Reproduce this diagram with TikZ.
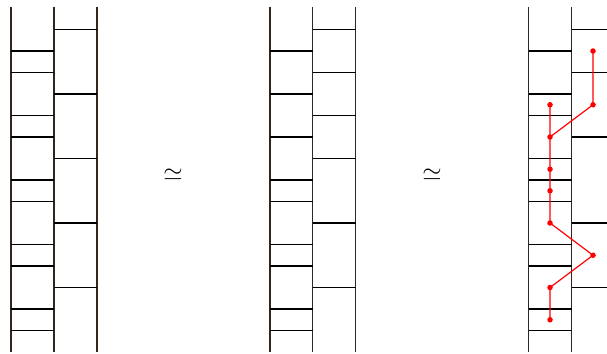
\documentclass[tikz,border=0pt]{standalone}
\begin{document}
\begin{tikzpicture}[x=1pt,y=-1pt,
  rail/.style={line width=1.8pt,draw={rgb,255:red,50;green,38;blue,30}},
  rung/.style={line width=1.8pt,draw=black},
  path/.style={line width=1.2pt,draw=red},
  dot/.style={circle,fill=red,inner sep=0pt,minimum size=5.5pt}]
\useasboundingbox (0,0) rectangle (607,353);
\def\u{21.5}
\def\top{7}
% ladder 1
\foreach \x in {11,54,97} \draw[rail] (\x,\top) -- (\x,352);
\foreach \k in {2,3,5,6,8,9,11,12,14,15} \draw[rung] (11,{8+\k*\u}) -- (54,{8+\k*\u});
\foreach \k in {1,4,7,10,13} \draw[rung] (54,{8+\k*\u}) -- (97,{8+\k*\u});
% ladder 2
\foreach \x in {270,312.5,355.5} \draw[rail] (\x,\top) -- (\x,352);
\foreach \k in {2,4,6,8,9,11,12,14,15} \draw[rung] (270,{8+\k*\u}) -- (312.5,{8+\k*\u});
\foreach \k in {1,3,5,7,10,13} \draw[rung] (312.5,{8+\k*\u}) -- (355.5,{8+\k*\u});
% ladder 3
\foreach \x in {528.5,571.5,614.5} \draw[rail] (\x,\top) -- (\x,352);
\foreach \k in {2,4,5,7,8,9,11,12,14,15} \draw[rung] (528.5,{8+\k*\u}) -- (571.5,{8+\k*\u});
\foreach \k in {1,3,6,10,13} \draw[rung] (571.5,{8+\k*\u}) -- (614.5,{8+\k*\u});
% similarity symbols
\node[font=\fontsize{23}{28}\selectfont] (s1) at (173,175) {$\simeq$};
\node[font=\fontsize{23}{28}\selectfont] (s2) at (432,175) {$\simeq$};
% red path
\node[dot] (p1) at (593,{8+2*\u}) {};
\node[dot] (p2) at (593,{8+4.5*\u}) {};
\node[dot] (p3) at (550,{8+4.5*\u}) {};
\node[dot] (p4) at (550,{8+6*\u}) {};
\node[dot] (p5) at (550,{8+7.5*\u}) {};
\node[dot] (p6) at (550,{8+8.5*\u}) {};
\node[dot] (p7) at (550,{8+10*\u}) {};
\node[dot] (p8) at (593,{8+11.5*\u}) {};
\node[dot] (p9) at (550,{8+13*\u}) {};
\node[dot] (p10) at (550,{8+14.5*\u}) {};
\draw[path] (p1.center) -- (p2.center) -- (p4.center);
\draw[path] (p3.center) -- (p4.center) -- (p5.center) -- (p6.center) -- (p7.center) -- (p8.center) -- (p9.center) -- (p10.center);
\end{tikzpicture}
\end{document}
